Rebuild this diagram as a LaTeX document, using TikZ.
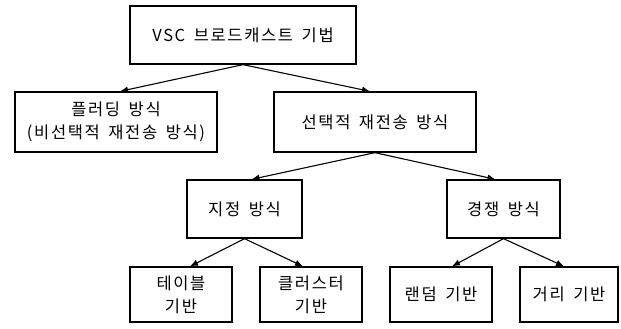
\documentclass[tikz,border=0pt]{standalone}
\usepackage{fontspec}
\setmainfont{Noto Sans CJK KR}[LetterSpace=10, WordSpace=1.6]
\usetikzlibrary{arrows.meta}
\begin{document}
\begin{tikzpicture}[x=1pt,y=1pt,
  box/.style={draw=black, line width=1.3pt, inner sep=0pt, align=center,
    font=\fontsize{16.5}{23}\selectfont},
  arr/.style={line width=1.1pt, -{Latex[length=8pt,width=6.5pt]}}]
\useasboundingbox (0,0) rectangle (621,-329);
\node[box, minimum width=226pt, minimum height=58pt] (top) at (243,-35) {VSC 브로드캐스트 기법};
\node[box, minimum width=202pt, minimum height=60pt] (flood) at (116,-122) {플러딩 방식\\(비선택적 재전송 방식)};
\node[box, minimum width=202pt, minimum height=60pt] (sel) at (375,-122) {선택적 재전송 방식};
\node[box, minimum width=115pt, minimum height=58pt] (desig) at (244.5,-209) {지정 방식};
\node[box, minimum width=113pt, minimum height=58pt] (comp) at (503.5,-209) {경쟁 방식};
\node[box, minimum width=102pt, minimum height=55pt] (table) at (181,-294.5) {테이블\\기반};
\node[box, minimum width=102pt, minimum height=55pt] (clust) at (311,-294.5) {클러스터\\기반};
\node[box, minimum width=102pt, minimum height=55pt] (rand) at (441,-294.5) {랜덤 기반};
\node[box, minimum width=98pt, minimum height=55pt] (dist) at (569,-294.5) {거리 기반};
\draw[arr] (top.south) -- ([xshift=4pt]flood.north);
\draw[arr] (top.south) -- ([xshift=-5pt]sel.north);
\draw[arr] (sel.south) -- ([xshift=7pt]desig.north);
\draw[arr] (sel.south) -- ([xshift=-8pt]comp.north);
\draw[arr] (desig.south) -- ([xshift=9pt]table.north);
\draw[arr] (desig.south) -- ([xshift=-8pt]clust.north);
\draw[arr] (comp.south) -- ([xshift=11pt]rand.north);
\draw[arr] (comp.south) -- ([xshift=-5pt]dist.north);
\end{tikzpicture}
\end{document}
